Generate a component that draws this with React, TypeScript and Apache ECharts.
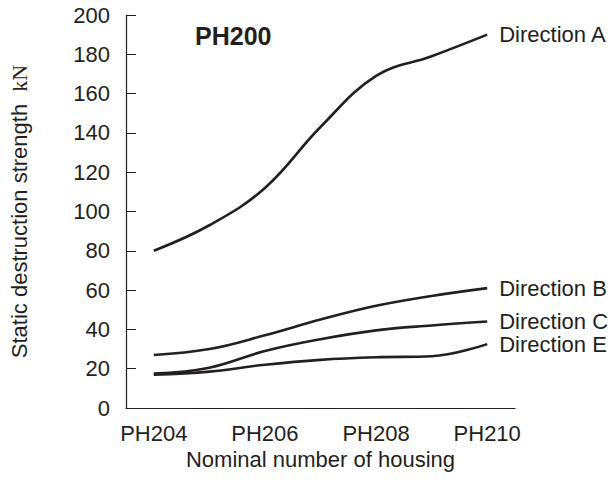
import React, { useEffect, useRef } from "react";
import * as echarts from "echarts";

const categories = ["PH204", "PH205", "PH206", "PH207", "PH208", "PH209", "PH210"];
const directionA = [80, 93, 112, 143, 169, 179, 190];
const directionB = [27, 30, 37, 45, 52, 57, 61];
const directionC = [17.5, 20.5, 29, 35, 39.5, 42, 44];
const directionE = [17, 18.5, 22, 24.5, 25.8, 26.3, 32.5];
const seriesNames = ["Direction A", "Direction B", "Direction C", "Direction E"];
const seriesValues = [directionA, directionB, directionC, directionE];
const yTicks = { min: 0, max: 200, interval: 20 };

const FONT = "'Liberation Sans', Arial, Helvetica, sans-serif";
const INK = "#231f20";
const FS = 22;

export default function App() {
  const ref = useRef<HTMLDivElement>(null);
  useEffect(() => {
    if (!ref.current) return;
    const chart = echarts.init(ref.current, null, { renderer: "svg" });
    chart.setOption({
      animation: false,
      backgroundColor: "#ffffff",
      textStyle: { fontFamily: FONT, color: INK },
      title: {
        text: "PH200",
        left: 190,
        top: 18,
        textStyle: { fontFamily: FONT, fontSize: 25, fontWeight: "bold", color: INK },
      },
      grid: { left: 123, right: 99, top: 15, bottom: 77 },
      xAxis: [
        {
          type: "category",
          data: categories,
          boundaryGap: true,
          name: "Nominal number of housing",
          nameLocation: "middle",
          nameGap: 40,
          nameTextStyle: { fontFamily: FONT, fontSize: FS, color: INK },
          axisLine: { lineStyle: { color: INK, width: 1.2 } },
          axisTick: {
            alignWithLabel: true,
            interval: 0,
            inside: true,
            length: 8,
            lineStyle: { color: INK, width: 1 },
          },
          axisLabel: { interval: 1, margin: 14, fontSize: FS, color: INK, fontFamily: FONT },
          splitLine: { show: false },
        },
        {
          type: "category",
          data: categories,
          position: "bottom",
          boundaryGap: true,
          axisLine: { show: false },
          axisTick: {
            alignWithLabel: true,
            interval: 1,
            inside: true,
            length: 9,
            lineStyle: { color: INK, width: 2.5 },
          },
          axisLabel: { show: false },
          splitLine: { show: false },
        },
      ],
      yAxis: {
        type: "value",
        min: yTicks.min,
        max: yTicks.max,
        interval: yTicks.interval,
        name: "Static destruction strength  {k|kN}",
        nameLocation: "middle",
        nameGap: 96,
        nameTextStyle: {
          fontFamily: FONT,
          fontSize: FS,
          color: INK,
          rich: { k: { fontFamily: "'Liberation Serif', 'Times New Roman', serif", fontSize: FS, color: INK } },
        },
        axisLine: { show: true, lineStyle: { color: INK, width: 1.2 } },
        axisTick: { show: true, inside: true, length: 10, lineStyle: { color: INK, width: 1 } },
        axisLabel: { margin: 16, fontSize: FS, color: INK, fontFamily: FONT },
        splitLine: { show: false },
      },
      series: seriesNames.map((name, i) => ({
        name,
        type: "line",
        data: seriesValues[i],
        xAxisIndex: 0,
        smooth: 0.4,
        symbol: "none",
        lineStyle: { color: INK, width: 2.6 },
        endLabel: {
          show: true,
          formatter: "{a}",
          distance: 12,
          fontSize: FS,
          color: INK,
          fontFamily: FONT,
        },
      })),
    });
    return () => chart.dispose();
  }, []);
  return (
    <div
      ref={ref}
      style={{ position: "fixed", left: 0, top: 0, width: 614, height: 485, background: "#fff" }}
    />
  );
}
